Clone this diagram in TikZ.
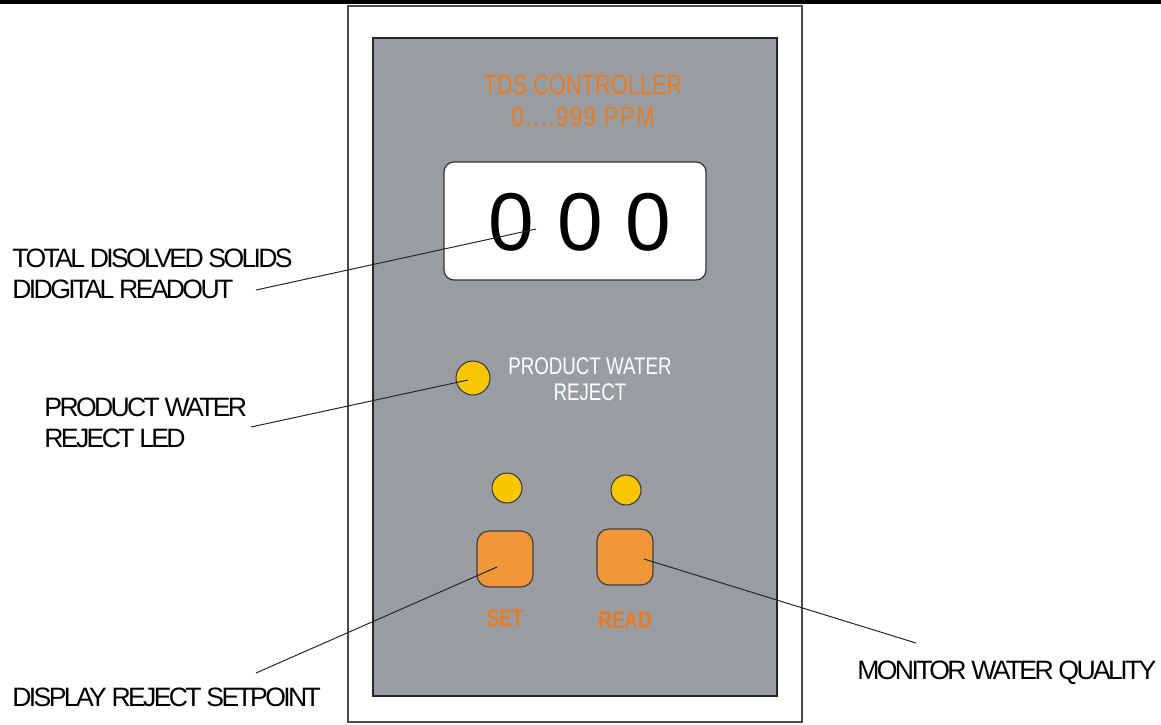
\documentclass[tikz,border=0pt]{standalone}
\usepackage{fontspec}
\setmainfont{Liberation Sans}
\newfontfamily\calloutfont[LetterSpace=-10]{Liberation Sans}
\newfontfamily\panelfont[FakeStretch=0.78]{Liberation Sans}
\usetikzlibrary{positioning}
\definecolor{panelgray}{RGB}{153,157,162}
\definecolor{legendorange}{RGB}{232,122,31}
\definecolor{keyorange}{RGB}{238,150,56}
\definecolor{ledyellow}{RGB}{247,198,0}
\tikzset{callout/.style = {font=\calloutfont\fontsize{13.3}{15.5}\selectfont,
                           align=left, anchor=west, inner sep=0}}
\tikzset{leader/.style = {draw=black!85, line width=0.5pt}}
\tikzset{led/.style = {circle, draw=black!80, line width=0.5pt, fill=ledyellow,
                       inner sep=0, minimum size=#1}}
\tikzset{key/.style = {draw=black!75, line width=0.6pt, fill=keyorange,
                       rounded corners=6pt, minimum size=28pt, inner sep=0}}
\tikzset{legend/.style = {font=\panelfont\fontsize{14}{16}\selectfont,
                          text=legendorange, align=center, inner sep=0}}
\tikzset{keylabel/.style = {font=\panelfont\bfseries\fontsize{12}{14}\selectfont,
                            text=legendorange, inner sep=0}}

\begin{document}
\begin{tikzpicture}[x=0.5pt, y=-0.5pt]
    \useasboundingbox (0, 0) rectangle (1161, 724);
    \draw [line width=2pt] (0, 2) -- (1161, 2);

    % housing and front plate
    \draw [black!70, line width=0.6pt] (348, 6) rectangle (802, 722);
    \draw [fill=panelgray, draw=black!85, line width=0.8pt] (373, 38) rectangle (777, 696);

    \node [legend] (legend) at (583, 101)
        {TDS CONTROLLER\\{\addfontfeature{LetterSpace=6}0....999 PPM}};

    \node [draw=black!80, line width=0.6pt, fill=white, rounded corners=5pt,
           minimum width=131pt, minimum height=59pt] (display) at (575, 221) {};
    \node [font=\fontsize{41}{41}\selectfont, inner sep=0] (digits) at (580, 222) {0 0 0};

    \node [led=17pt] (rejectled) at (473, 378) {};
    \node [font=\panelfont\fontsize{12}{13}\selectfont, text=white, align=center,
           inner sep=0] (rejectlegend) at (590, 379) {PRODUCT WATER\\REJECT};

    \node [led=15pt] (setled) at (507, 488) {};
    \node [led=15pt] (readled) at (626, 490) {};
    \node [key] (setkey) at (505, 559) {};
    \node [key] (readkey) at (625, 557) {};
    \node [keylabel, below=11pt of setkey] (setlabel) {SET};
    \node [keylabel, below=13pt of readkey] (readlabel) {READ};

    % callouts
    \node [callout] (readoutnote) at (12, 274) {TOTAL DISOLVED SOLIDS\\DIDGITAL READOUT};
    \node [callout] (lednote) at (44, 423) {PRODUCT WATER\\REJECT LED};
    \node [callout] (setnote) at (12, 697) {DISPLAY REJECT SETPOINT};
    \node [callout] (readnote) at (857, 673) {MONITOR WATER QUALITY};

    \coordinate (readouttail) at (256, 290);
    \coordinate (readouttip) at (536, 229);
    \coordinate (ledtail) at (251, 427);
    \coordinate (ledtip) at (468, 380);
    \coordinate (settail) at (256, 673);
    \coordinate (settip) at (497, 567);
    \coordinate (readtail) at (916, 643);
    \coordinate (readtip) at (644, 559);

    \draw [leader] (readouttail) -- (readouttip);
    \draw [leader] (ledtail) -- (ledtip);
    \draw [leader] (settail) -- (settip);
    \draw [leader] (readtail) -- (readtip);
\end{tikzpicture}
\end{document}
